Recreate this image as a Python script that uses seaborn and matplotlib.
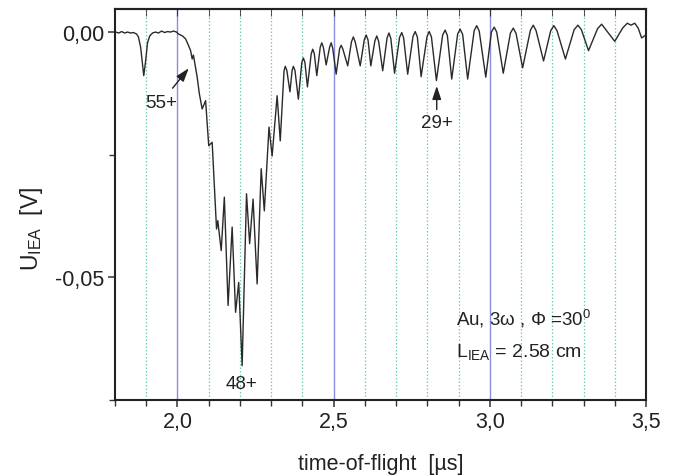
import matplotlib
matplotlib.use("Agg")
import matplotlib.pyplot as plt
import matplotlib.ticker as mticker
import seaborn as sns
import pandas as pd

# time-of-flight [us] : turning points of the trace
tof = [1.802, 1.812, 1.821, 1.831, 1.840, 1.850, 1.859, 1.869, 1.875, 1.882,
       1.888, 1.892, 1.898, 1.904, 1.911, 1.920, 1.930, 1.939, 1.949, 1.959,
       1.968, 1.978, 1.987, 1.997, 2.003, 2.016, 2.026, 2.035, 2.042, 2.047,
       2.051, 2.063, 2.070, 2.079, 2.090, 2.100, 2.111, 2.125, 2.129, 2.140,
       2.150, 2.162, 2.175, 2.186, 2.196, 2.207, 2.221, 2.231, 2.242, 2.255,
       2.268, 2.278, 2.293, 2.303, 2.319, 2.329, 2.345, 2.360, 2.371, 2.387,
       2.403, 2.416, 2.433, 2.446, 2.462, 2.476, 2.492, 2.508, 2.524, 2.545,
       2.563, 2.585, 2.604, 2.619, 2.638, 2.657, 2.677, 2.695, 2.718, 2.737,
       2.761, 2.780, 2.806, 2.829, 2.857, 2.878, 2.905, 2.929, 2.958, 2.987,
       3.014, 3.043, 3.075, 3.105, 3.139, 3.172, 3.205, 3.242, 3.282, 3.316,
       3.358, 3.400, 3.440, 3.464, 3.486, 3.500]

# signal U_IEA [V] at those points
signal = [0.0000, -0.0002, 0.0001, -0.0002, 0.0000, -0.0002, -0.0001, -0.0004, -0.0010, -0.0031,
          -0.0067, -0.0089, -0.0059, -0.0022, -0.0008, -0.0002, 0.0000, -0.0002, 0.0002, -0.0001,
          0.0001, 0.0000, 0.0002, 0.0000, -0.0004, -0.0008, -0.0014, -0.0027, -0.0038, -0.0055,
          -0.0047, -0.0092, -0.0126, -0.0157, -0.0140, -0.0232, -0.0225, -0.0402, -0.0385, -0.0446,
          -0.0337, -0.0558, -0.0398, -0.0572, -0.0511, -0.0681, -0.0330, -0.0432, -0.0341, -0.0514,
          -0.0279, -0.0365, -0.0194, -0.0253, -0.0130, -0.0222, -0.0070, -0.0122, -0.0070, -0.0137,
          -0.0053, -0.0112, -0.0035, -0.0089, -0.0022, -0.0067, -0.0022, -0.0086, -0.0027, -0.0069,
          -0.0010, -0.0069, -0.0006, -0.0069, -0.0008, -0.0079, -0.0002, -0.0084, -0.0001, -0.0086,
          0.0001, -0.0091, 0.0001, -0.0099, 0.0004, -0.0096, 0.0006, -0.0096, 0.0013, -0.0092,
          0.0010, -0.0084, 0.0008, -0.0073, 0.0014, -0.0059, 0.0013, -0.0055, 0.0014, -0.0038,
          0.0016, -0.0019, 0.0018, 0.0018, -0.0012, -0.0006]

# shoulders of the rounded maxima
tof_shoulder = [2.341, 2.350, 2.367, 2.376, 2.398, 2.408, 2.428, 2.438, 2.457, 2.467,
                2.487, 2.497, 2.519, 2.529, 2.557, 2.569, 2.598, 2.610, 2.632, 2.644,
                2.671, 2.683, 2.711, 2.724, 2.754, 2.768, 2.799, 2.813, 2.849, 2.864,
                2.897, 2.913, 2.950, 2.966, 3.005, 3.022, 3.066, 3.084, 3.130, 3.148,
                3.195, 3.215, 3.270, 3.293, 3.345, 3.370, 3.425, 3.452, 3.475]
signal_shoulder = [-0.0080, -0.0078, -0.0078, -0.0078, -0.0062, -0.0062, -0.0045, -0.0044, -0.0031, -0.0031,
                   -0.0031, -0.0033, -0.0034, -0.0034, -0.0020, -0.0020, -0.0016, -0.0016, -0.0018, -0.0019,
                   -0.0012, -0.0013, -0.0011, -0.0012, -0.0009, -0.0010, -0.0009, -0.0010, -0.0006, -0.0007,
                   -0.0004, -0.0005, 0.0003, 0.0002, 0.0000, 0.0000, -0.0002, -0.0003, 0.0004, 0.0003,
                   0.0003, 0.0003, 0.0005, 0.0005, 0.0007, 0.0006, 0.0008, 0.0014, 0.0008]

x_ticks = [2.0, 2.5, 3.0, 3.5]
x_tick_labels = ["2,0", "2,5", "3,0", "3,5"]
y_ticks = [0.0, -0.05]
y_tick_labels = ["0,00", "-0,05"]

sns.set_style("ticks")
plt.rcParams["font.family"] = ["Liberation Sans", "DejaVu Sans"]
plt.rcParams["mathtext.fontset"] = "custom"
plt.rcParams["mathtext.rm"] = "Liberation Sans"
plt.rcParams["mathtext.it"] = "Liberation Sans:italic"

df = pd.concat([pd.DataFrame({"tof": tof, "U": signal}),
                pd.DataFrame({"tof": tof_shoulder, "U": signal_shoulder})])
df = df.sort_values("tof").reset_index(drop=True)

fig = plt.figure(figsize=(6.79, 4.77), dpi=100)
ax = fig.add_axes([0.1694, 0.1593, 0.7820, 0.8197])

# grid lines
for v in [1.9, 2.1, 2.2, 2.3, 2.4, 2.6, 2.7, 2.8, 2.9, 3.1, 3.2, 3.3, 3.4]:
    ax.axvline(v, color="#6fcfae", lw=0.9, ls=(0, (1.2, 1.6)), zorder=0)
for v in [2.0, 2.5, 3.0]:
    ax.axvline(v, color="#8c8ce0", lw=1.0, zorder=0)

sns.lineplot(data=df, x="tof", y="U", ax=ax, color="#2a2a2a", lw=1.0,
             estimator=None, sort=False)

ax.set_xlim(1.8, 3.5)
ax.set_ylim(-0.0751, 0.0047)
ax.set_xticks(x_ticks)
ax.set_xticklabels(x_tick_labels)
ax.set_yticks(y_ticks)
ax.set_yticklabels(y_tick_labels)
ax.xaxis.set_minor_locator(mticker.MultipleLocator(0.1))
ax.yaxis.set_minor_locator(mticker.FixedLocator([-0.025, -0.075]))
ax.tick_params(axis="both", which="major", labelsize=15.5, length=5, width=1.1,
               color="#333333", labelcolor="#222222", direction="out", pad=3)
ax.tick_params(axis="both", which="minor", length=4, width=1.0, color="#333333",
               direction="out")

sec = ax.secondary_xaxis("top")
sec.set_xticks(x_ticks)
sec.xaxis.set_minor_locator(mticker.MultipleLocator(0.1))
sec.tick_params(which="both", direction="in", length=5, labeltop=False, color="#333333")
sec.spines["top"].set_linewidth(1.5)
sec.spines["top"].set_color("#222222")

for s in ax.spines.values():
    s.set_linewidth(1.5)
    s.set_color("#222222")

ax.set_xlabel("time-of-flight  [\u00b5s]", fontsize=15.5, color="#222222", labelpad=15)
ax.set_ylabel(r"U$_{\mathrm{IEA}}$  [V]", fontsize=16.5, color="#222222")
ax.yaxis.set_label_coords(-0.132, 0.44)

ann = dict(fontsize=13.5, color="#222222", ha="center", va="center")
ax.annotate("55+", xy=(2.036, -0.0074), xytext=(1.948, -0.0143),
            arrowprops=dict(arrowstyle="-|>,head_length=0.6,head_width=0.2",
                            color="#222222", lw=1.0, shrinkA=2, shrinkB=0), **ann)
ax.annotate("29+", xy=(2.830, -0.0110), xytext=(2.830, -0.0185),
            arrowprops=dict(arrowstyle="-|>,head_length=0.6,head_width=0.2",
                            color="#222222", lw=1.0, shrinkA=1, shrinkB=0), **ann)
ax.text(2.205, -0.0718, "48+", **ann)

ax.text(2.892, -0.0583, r"Au, 3ω , Φ =30$^0$", fontsize=13.5, color="#222222",
        ha="left", va="center")
ax.text(2.892, -0.0651, r"L$_{\mathrm{IEA}}$ = 2.58 cm", fontsize=14, color="#222222",
        ha="left", va="center")

fig.savefig("out.png", dpi=100)
